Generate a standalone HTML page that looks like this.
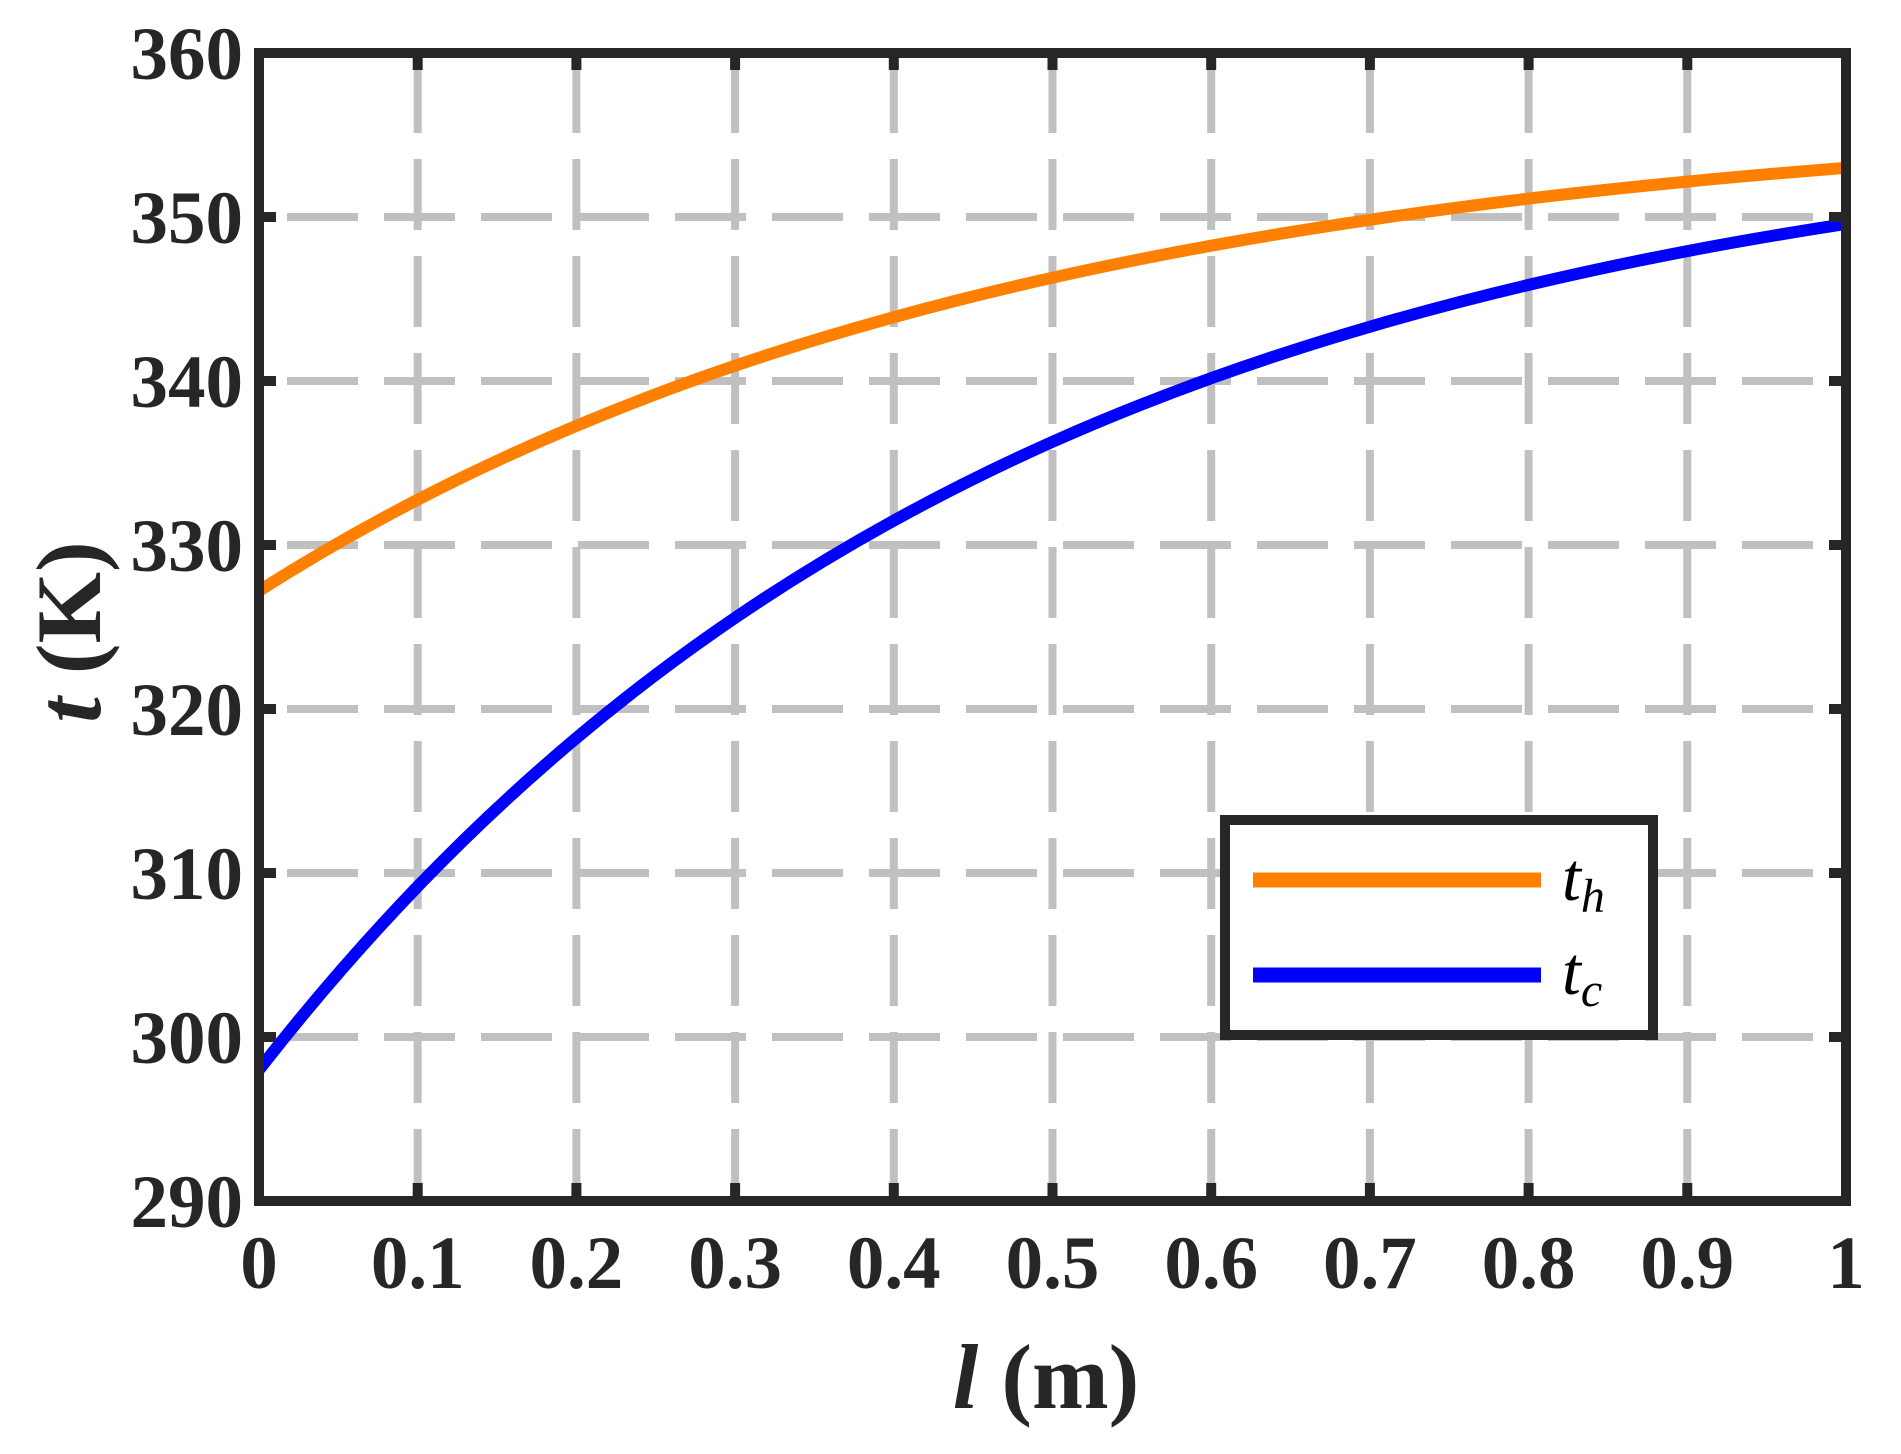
<!DOCTYPE html>
<html><head><meta charset="utf-8"><style>html,body{margin:0;padding:0;background:#fff}
svg text{font-family:"Liberation Serif","Times New Roman",Times,serif}</style></head>
<body>
<svg width="1901" height="1449" viewBox="0 0 1901 1449" xmlns="http://www.w3.org/2000/svg" font-family="'Liberation Serif', 'Times New Roman', Times, serif">
<defs><clipPath id="c"><rect x="259" y="53" width="1587" height="1148"/></clipPath></defs>
<g clip-path="url(#c)" stroke="#c0c0c0" stroke-width="8" fill="none">
<g stroke-dasharray="71 26">
<line x1="190" y1="217" x2="1900" y2="217"/>
<line x1="190" y1="381" x2="1900" y2="381"/>
<line x1="190" y1="545" x2="1900" y2="545"/>
<line x1="190" y1="709" x2="1900" y2="709"/>
<line x1="190" y1="873" x2="1900" y2="873"/>
<line x1="190" y1="1037" x2="1900" y2="1037"/>
<line x1="417.7" y1="1200" x2="417.7" y2="0"/>
<line x1="576.4" y1="1200" x2="576.4" y2="0"/>
<line x1="735.1" y1="1200" x2="735.1" y2="0"/>
<line x1="893.8" y1="1200" x2="893.8" y2="0"/>
<line x1="1052.5" y1="1200" x2="1052.5" y2="0"/>
<line x1="1211.2" y1="1200" x2="1211.2" y2="0"/>
<line x1="1369.9" y1="1200" x2="1369.9" y2="0"/>
<line x1="1528.6" y1="1200" x2="1528.6" y2="0"/>
<line x1="1687.3" y1="1200" x2="1687.3" y2="0"/>
</g>
</g>
<g clip-path="url(#c)" fill="none" stroke-width="12" stroke-linejoin="round">
<path stroke="#ff8000" d="M259,590.9 C311.9,557.21 364.8,527.03 417.7,499.7 S523.5,447.96 576.4,425.8 S682.2,383.68 735.1,365.7 S840.9,331.78 893.8,317.2 S999.6,289.53 1052.5,277.7 S1158.3,255.29 1211.2,245.7 S1317,227.58 1369.9,219.8 S1475.7,204.91 1528.6,198.6 S1634.4,186.72 1687.3,181.6 S1793.1,171.95 1846,167.8"/>
<path stroke="#0000ff" d="M259,1069.8 C311.9,1001.96 364.8,941.3 417.7,886.4 S523.5,782.44 576.4,738 S682.2,653.76 735.1,617.8 S840.9,549.7 893.8,520.6 S999.6,465.35 1052.5,441.8 S1158.3,397.26 1211.2,378.2 S1317,342.13 1369.9,326.7 S1475.7,297.38 1528.6,284.9 S1634.4,261.2 1687.3,251.1 S1793.1,232.07 1846,223.9"/>
</g>
<g stroke="#262626" stroke-width="10">
<path d="M259,217h17M259,381h17M259,545h17M259,709h17M259,873h17M259,1037h17M1846,217h-17M1846,381h-17M1846,545h-17M1846,709h-17M1846,873h-17M1846,1037h-17"/>
<path d="M417.7,1200v-17M576.4,1200v-17M735.1,1200v-17M893.8,1200v-17M1052.5,1200v-17M1211.2,1200v-17M1369.9,1200v-17M1528.6,1200v-17M1687.3,1200v-17M417.7,53v17M576.4,53v17M735.1,53v17M893.8,53v17M1052.5,53v17M1211.2,53v17M1369.9,53v17M1528.6,53v17M1687.3,53v17"/>
<rect x="259" y="53" width="1587" height="1148" fill="none"/>
</g>
<g font-weight="bold" font-size="75" fill="#262626" text-anchor="end">
<text x="243" y="79">360</text><text x="243" y="243">350</text><text x="243" y="407">340</text><text x="243" y="571">330</text><text x="243" y="735">320</text><text x="243" y="899">310</text><text x="243" y="1063">300</text><text x="243" y="1227">290</text>
</g>
<g font-weight="bold" font-size="75" fill="#262626" text-anchor="middle">
<text x="259" y="1288">0</text><text x="417.7" y="1288">0.1</text><text x="576.4" y="1288">0.2</text><text x="735.1" y="1288">0.3</text><text x="893.8" y="1288">0.4</text><text x="1052.5" y="1288">0.5</text><text x="1211.2" y="1288">0.6</text><text x="1369.9" y="1288">0.7</text><text x="1528.6" y="1288">0.8</text><text x="1687.3" y="1288">0.9</text><text x="1846" y="1288">1</text>
</g>
<text x="1046" y="1408" font-weight="bold" font-size="92" fill="#262626" text-anchor="middle"><tspan font-style="italic">l</tspan> (m)</text>
<text transform="translate(100,632) rotate(-90)" font-weight="bold" font-size="92" fill="#262626" text-anchor="middle"><tspan font-style="italic">t</tspan> (K)</text>
<rect x="1225" y="820" width="428" height="215" fill="#fff" stroke="#262626" stroke-width="10"/>
<line x1="1253" y1="880" x2="1541" y2="880" stroke="#ff8000" stroke-width="15"/>
<line x1="1253" y1="975" x2="1541" y2="975" stroke="#0000ff" stroke-width="15"/>
<g font-style="italic" fill="#000">
<text x="1562" y="900" font-size="68">t<tspan font-size="48" dy="12">h</tspan></text>
<text x="1562" y="994" font-size="68">t<tspan font-size="48" dy="12">c</tspan></text>
</g>
</svg>
</body></html>
